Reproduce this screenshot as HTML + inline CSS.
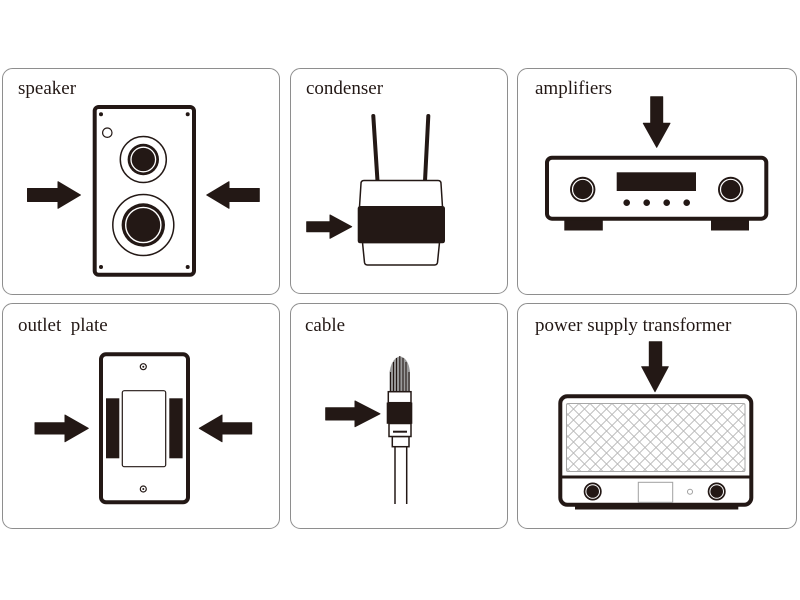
<!DOCTYPE html>
<html>
<head>
<meta charset="utf-8">
<style>
html,body{margin:0;padding:0;background:#fff;}
svg{display:block;}
text{font-family:"Liberation Serif",serif;font-size:19px;fill:#231815;}
</style>
</head>
<body>
<svg width="800" height="600" viewBox="0 0 800 600" xmlns="http://www.w3.org/2000/svg">
<defs>
<pattern id="hatch" patternUnits="userSpaceOnUse" width="11" height="11" x="568" y="403.5">
<path d="M0,0 L11,11 M11,0 L0,11" stroke="#b8b8b8" stroke-width="0.9" fill="none"/>
</pattern>
</defs>
<rect width="800" height="600" fill="#fff"/>

<!-- panels -->
<g fill="#fff" stroke="#8e8e8e" stroke-width="1">
<rect x="2.5" y="68.5" width="277" height="226" rx="10"/>
<rect x="290.5" y="68.5" width="217" height="225" rx="10"/>
<rect x="517.5" y="68.5" width="279" height="226" rx="10"/>
<rect x="2.5" y="303.5" width="277" height="225" rx="10"/>
<rect x="290.5" y="303.5" width="217" height="225" rx="10"/>
<rect x="517.5" y="303.5" width="279" height="225" rx="10"/>
</g>

<!-- labels -->
<text x="18" y="94">speaker</text>
<text x="306" y="94">condenser</text>
<text x="535" y="94">amplifiers</text>
<text x="18" y="331" xml:space="preserve">outlet  plate</text>
<text x="305" y="331">cable</text>
<text x="535" y="331">power supply transformer</text>

<g fill="#231815" stroke="#231815" stroke-linejoin="round">
<!-- speaker arrows -->
<path stroke-width="1" d="M27.5,188.5 L58,188.5 L58,181.7 L80.5,195 L58,208.3 L58,201.5 L27.5,201.5 Z"/>
<path stroke-width="1" d="M259.3,188.5 L229,188.5 L229,181.7 L206.7,195 L229,208.3 L229,201.5 L259.3,201.5 Z"/>
<!-- condenser arrow -->
<path stroke-width="1" d="M306.7,221.7 L330,221.7 L330,215 L351.7,226.7 L330,238.3 L330,231.7 L306.7,231.7 Z"/>
<!-- amplifier arrow -->
<path stroke-width="1" d="M650.7,96.7 L662.7,96.7 L662.7,123.3 L670,123.3 L656.7,147.3 L643.3,123.3 L650.7,123.3 Z"/>
<!-- outlet arrows -->
<path stroke-width="1" d="M35,422.8 L65,422.8 L65,415 L88.3,428.3 L65,441.7 L65,434 L35,434 Z"/>
<path stroke-width="1" d="M251.7,422.8 L222,422.8 L222,415 L199.3,428.3 L222,441.7 L222,434 L251.7,434 Z"/>
<!-- cable arrow -->
<path stroke-width="1" d="M325.7,407.7 L355,407.7 L355,401 L380,413.8 L355,426.7 L355,420 L325.7,420 Z"/>
<!-- transformer arrow -->
<path stroke-width="1" d="M649.3,341.7 L661.7,341.7 L661.7,366.7 L668.3,366.7 L655,391.7 L641.7,366.7 L649.3,366.7 Z"/>
</g>

<!-- speaker -->
<g>
<rect x="94.7" y="107" width="99.3" height="167.7" rx="4" fill="#fff" stroke="#231815" stroke-width="4"/>
<circle cx="101" cy="114.3" r="2" fill="#231815"/>
<circle cx="187.7" cy="114.3" r="2" fill="#231815"/>
<circle cx="101" cy="267" r="2" fill="#231815"/>
<circle cx="187.7" cy="267" r="2" fill="#231815"/>
<circle cx="107.3" cy="132.7" r="4.7" fill="none" stroke="#231815" stroke-width="1.2"/>
<circle cx="143.3" cy="159.5" r="23" fill="none" stroke="#231815" stroke-width="1.5"/>
<circle cx="143.3" cy="159.5" r="15.7" fill="#231815"/>
<circle cx="143.3" cy="159.5" r="12.3" fill="none" stroke="#fff" stroke-width="1.3"/>
<circle cx="143.3" cy="225" r="30.5" fill="none" stroke="#231815" stroke-width="1.5"/>
<circle cx="143.3" cy="225" r="21.7" fill="#231815"/>
<circle cx="143.3" cy="225" r="17.6" fill="none" stroke="#fff" stroke-width="1.4"/>
</g>

<!-- condenser -->
<g>
<line x1="373.3" y1="116" x2="377.5" y2="181" stroke="#231815" stroke-width="4" stroke-linecap="round"/>
<line x1="428.3" y1="116" x2="425" y2="181" stroke="#231815" stroke-width="4" stroke-linecap="round"/>
<path d="M364,180.5 L438,180.5 Q441,180.5 441,183.5 L442.5,207 L359.5,207 L361,183.5 Q361,180.5 364,180.5 Z" fill="#fff" stroke="#231815" stroke-width="1.5"/>
<path d="M362.5,242.5 L364.5,262.5 Q365,265 367.5,265 L434.5,265 Q437,265 437.5,262.5 L439.5,242.5 Z" fill="#fff" stroke="#231815" stroke-width="1.5"/>
<rect x="357.7" y="206" width="87.3" height="37.3" rx="2.5" fill="#231815"/>
</g>

<!-- amplifier -->
<g>
<rect x="564.3" y="218" width="38.5" height="12.5" fill="#231815"/>
<rect x="711" y="218" width="38" height="12.5" fill="#231815"/>
<rect x="547" y="157.7" width="219.3" height="61" rx="5" fill="#fff" stroke="#231815" stroke-width="4"/>
<rect x="616.7" y="172.3" width="79.3" height="18.7" fill="#231815"/>
<circle cx="626.7" cy="202.7" r="3.3" fill="#231815"/>
<circle cx="646.7" cy="202.7" r="3.3" fill="#231815"/>
<circle cx="666.7" cy="202.7" r="3.3" fill="#231815"/>
<circle cx="686.7" cy="202.7" r="3.3" fill="#231815"/>
<circle cx="582.7" cy="189.5" r="12.7" fill="#231815"/>
<circle cx="582.7" cy="189.5" r="10.2" fill="none" stroke="#fff" stroke-width="1.2"/>
<circle cx="730.7" cy="189.5" r="12.7" fill="#231815"/>
<circle cx="730.7" cy="189.5" r="10.2" fill="none" stroke="#fff" stroke-width="1.2"/>
</g>

<!-- outlet plate -->
<g>
<rect x="101" y="354.3" width="87" height="148" rx="5" fill="#fff" stroke="#231815" stroke-width="4"/>
<circle cx="143.3" cy="366.7" r="3" fill="none" stroke="#231815" stroke-width="1.2"/>
<circle cx="143.3" cy="366.7" r="1" fill="#231815"/>
<circle cx="143.3" cy="489" r="3" fill="none" stroke="#231815" stroke-width="1.2"/>
<circle cx="143.3" cy="489" r="1" fill="#231815"/>
<rect x="122.3" y="390.7" width="43.4" height="76" rx="2" fill="#fff" stroke="#231815" stroke-width="1.2"/>
<rect x="106" y="398.3" width="13.3" height="60" fill="#231815"/>
<rect x="169.3" y="398.3" width="13.3" height="60" fill="#231815"/>
</g>

<!-- cable -->
<g>
<path d="M389.5,392 L389.5,372 Q391,362 396,358 Q400,355 404,358 Q409,362 410,372 L410,392 Z" fill="#9a9a9a"/>
<g stroke="#231815" stroke-width="1.1">
<line x1="390.5" y1="392" x2="390.5" y2="372"/>
<line x1="393.5" y1="392" x2="393.5" y2="362"/>
<line x1="396.5" y1="392" x2="396.5" y2="358"/>
<line x1="399.8" y1="392" x2="399.8" y2="356"/>
<line x1="403" y1="392" x2="403" y2="358"/>
<line x1="406" y1="392" x2="406" y2="362"/>
<line x1="409" y1="392" x2="409" y2="372"/>
</g>
<rect x="388.3" y="391.7" width="22.7" height="11" fill="#fff" stroke="#231815" stroke-width="1.5"/>
<rect x="392.3" y="436.5" width="16.7" height="10.2" fill="#fff" stroke="#231815" stroke-width="1.5"/>
<rect x="389" y="423.5" width="22" height="13" fill="#fff" stroke="#231815" stroke-width="1.5"/>
<line x1="393" y1="431.7" x2="407" y2="431.7" stroke="#231815" stroke-width="2"/>
<rect x="386.7" y="402.5" width="25.6" height="21.3" fill="#231815"/>
<line x1="395" y1="446.7" x2="395" y2="504" stroke="#231815" stroke-width="1.5"/>
<line x1="406.7" y1="446.7" x2="406.7" y2="504" stroke="#231815" stroke-width="1.5"/>
</g>

<!-- transformer -->
<g>
<rect x="575" y="505" width="163.3" height="4.5" fill="#231815"/>
<rect x="560.3" y="396.3" width="191" height="108.4" rx="7" fill="#fff" stroke="#231815" stroke-width="4"/>
<rect x="566.5" y="403.5" width="178.5" height="68" rx="1.5" fill="url(#hatch)" stroke="#a8a8a8" stroke-width="1"/>
<line x1="560" y1="477" x2="751.5" y2="477" stroke="#231815" stroke-width="3"/>
<circle cx="592.7" cy="491.5" r="9" fill="#231815"/>
<circle cx="592.7" cy="491.5" r="6.8" fill="none" stroke="#fff" stroke-width="1"/>
<circle cx="716.7" cy="491.5" r="9" fill="#231815"/>
<circle cx="716.7" cy="491.5" r="6.8" fill="none" stroke="#fff" stroke-width="1"/>
<rect x="638.3" y="482.3" width="34.4" height="20" fill="#fff" stroke="#a0a0a0" stroke-width="1"/>
<circle cx="690" cy="491.7" r="2.5" fill="none" stroke="#a0a0a0" stroke-width="1"/>
</g>
</svg>
</body>
</html>
